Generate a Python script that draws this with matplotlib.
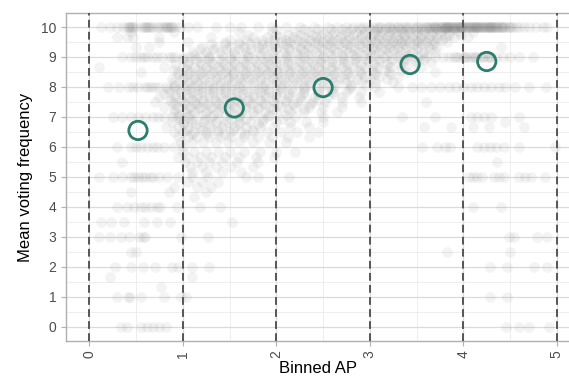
import matplotlib.pyplot as plt
from matplotlib.ticker import MultipleLocator

plt.rcParams['font.family'] = ['Liberation Sans', 'DejaVu Sans']

# bin means (open circles)
bin_x = [0.52, 1.55, 2.5, 3.43, 4.25]
bin_y = [6.55, 7.3, 7.98, 8.75, 8.85]

# individual respondents, grouped by mean voting frequency (y) -> AP values (x)
rows = {
    10: [0.12, 0.22, 0.3, 0.36, 0.4, 0.42, 0.45, 0.47, 0.5, 0.55, 0.58, 0.6, 0.62, 0.64, 0.68,
         0.72, 0.75, 0.78, 0.8, 0.82, 0.84, 0.86, 0.88, 0.92, 0.97, 1.05, 1.15,
         0.42, 0.46, 0.62, 0.66, 0.83, 0.87,
         1.35, 1.5, 1.62, 1.8, 1.95, 2.1, 2.25, 2.4, 2.55, 2.65, 2.75, 2.82, 2.88, 2.93, 2.98,
         3.03, 3.08, 3.12, 3.17, 3.22, 3.26, 3.3, 3.34, 3.38, 3.42, 3.46, 3.5, 3.54, 3.57, 3.6,
         3.62, 3.64, 3.66, 3.68, 3.7, 3.71, 3.73, 3.75, 3.76, 3.78, 3.8, 3.81, 3.83, 3.85, 3.86,
         3.88, 3.9, 3.91, 3.93, 3.95, 3.96, 3.98, 4.0, 4.01, 4.03, 4.05, 4.06, 4.08, 4.1, 4.11,
         4.13, 4.15, 4.16, 4.18, 4.2, 4.21, 4.23, 4.25, 4.26, 4.28, 4.3, 4.31, 4.33, 4.35, 4.37,
         4.4, 4.42, 4.45, 4.48, 4.5, 4.53, 4.56, 4.6, 4.65, 4.7, 4.78, 4.85, 4.9,
         3.8, 3.84, 3.89, 3.94, 3.99, 4.04, 4.09, 4.14, 4.19, 4.24, 4.29, 4.34, 4.39,
         3.77, 3.82, 3.87, 3.92, 3.97, 4.02, 4.07, 4.12, 4.17, 4.22, 4.27, 4.32, 4.36, 4.41,
         3.1, 3.2, 3.3, 3.4, 3.5, 3.6, 3.7, 4.44, 4.5],
    9.92: [2.0, 2.3, 2.45, 2.58, 2.7, 2.8, 2.9, 3.0, 3.08, 3.16, 3.24, 3.32, 3.4, 3.48, 3.56,
           3.64, 3.72, 3.8, 3.9],
    9.83: [0.45, 0.9, 1.6, 1.95, 2.2, 2.35, 2.5, 2.62, 2.75, 2.85, 2.95, 3.05, 3.12, 3.2, 3.28,
           3.35, 3.42, 3.5, 3.58, 3.66, 3.75, 3.85, 3.95, 4.1],
    9.75: [1.7, 2.0, 2.12, 2.25, 2.38, 2.48, 2.6, 2.7, 2.82, 2.92, 3.02, 3.1, 3.2, 3.3, 3.38,
           3.47, 3.56, 3.65, 3.75, 3.85, 3.98],
    9.67: [0.3, 0.4, 0.47, 0.75, 1.3, 1.75, 1.9, 2.05, 2.18, 2.3, 2.42, 2.55, 2.68, 2.78, 2.9,
           3.0, 3.1, 3.18, 3.27, 3.36, 3.45, 3.55, 3.63, 3.72, 3.8, 3.9, 4.05],
    9.58: [1.5, 1.68, 1.85, 1.98, 2.1, 2.22, 2.35, 2.45, 2.56, 2.66, 2.78, 2.88, 3.0, 3.1, 3.2,
           3.3, 3.38, 3.48, 3.57, 3.67, 3.77],
    9.5: [0.75, 1.05, 1.45, 1.6, 1.78, 1.92, 2.05, 2.15, 2.28, 2.4, 2.5, 2.6, 2.72, 2.83, 2.95,
          3.05, 3.15, 3.25, 3.33, 3.42, 3.52, 3.6, 3.7, 3.82],
    9.42: [1.3, 1.45, 1.6, 1.72, 1.85, 1.98, 2.1, 2.2, 2.32, 2.45, 2.55, 2.66, 2.76, 2.88, 2.98,
           3.08, 3.18, 3.28, 3.37, 3.47, 3.56, 3.68],
    9.33: [0.5, 0.64, 1.2, 1.35, 1.5, 1.65, 1.8, 1.9, 2.02, 2.12, 2.25, 2.35, 2.48, 2.58, 2.7,
           2.8, 2.92, 3.02, 3.12, 3.22, 3.3, 3.4, 3.5, 3.62, 3.72, 4.4],
    9.25: [1.18, 1.32, 1.46, 1.6, 1.72, 1.86, 2.0, 2.14, 2.26, 2.38, 2.5, 2.62, 2.74, 2.84, 2.96,
           3.06, 3.16, 3.26, 3.38, 3.5, 3.64],
    9.17: [1.1, 1.25, 1.4, 1.55, 1.68, 1.8, 1.95, 2.08, 2.2, 2.3, 2.42, 2.55, 2.65, 2.78, 2.88,
           3.0, 3.1, 3.2, 3.32, 3.45, 3.58, 3.7],
    9.08: [1.12, 1.28, 1.42, 1.56, 1.7, 1.84, 1.98, 2.1, 2.22, 2.34, 2.46, 2.58, 2.7, 2.82, 2.94,
           3.06, 3.18, 3.3, 3.42, 3.56],
    9: [0.35, 0.45, 0.5, 0.55, 0.58, 0.62, 0.68, 0.72, 0.78, 0.85, 0.88, 0.92, 1.0, 1.08, 1.18,
        1.28, 1.5, 1.7, 1.9, 2.1, 2.3, 2.5, 2.7, 2.85, 3.0, 3.15, 3.3, 3.4, 3.5, 3.6,
        3.7, 3.78, 3.85, 3.9, 3.95, 4.0, 4.03, 4.07, 4.1, 4.14, 4.18, 4.22, 4.26, 4.3, 4.35,
        4.42, 4.5, 4.6, 4.75, 3.92, 4.02, 4.12, 4.2, 4.28],
    8.92: [1.0, 1.14, 1.28, 1.4, 1.52, 1.64, 1.76, 1.88, 2.0, 2.12, 2.24, 2.36, 2.48, 2.6, 2.72,
           2.84, 2.96, 3.1, 3.24, 3.4, 3.58],
    8.83: [1.05, 1.18, 1.3, 1.42, 1.55, 1.65, 1.78, 1.9, 2.0, 2.12, 2.25, 2.38, 2.48, 2.6, 2.72,
           2.85, 2.98, 3.1, 3.22, 3.35, 3.5, 3.65],
    8.75: [0.92, 1.06, 1.2, 1.32, 1.44, 1.56, 1.68, 1.8, 1.92, 2.04, 2.16, 2.28, 2.4, 2.52, 2.64,
           2.76, 2.9, 3.04, 3.18, 3.32, 3.48],
    8.67: [0.1, 0.8, 1.0, 1.12, 1.25, 1.38, 1.48, 1.6, 1.72, 1.85, 1.95, 2.08, 2.2, 2.32, 2.45,
           2.58, 2.7, 2.82, 2.95, 3.08, 3.22, 3.38, 3.55],
    8.58: [0.9, 1.04, 1.16, 1.28, 1.4, 1.52, 1.64, 1.76, 1.88, 2.0, 2.12, 2.24, 2.36, 2.48, 2.6,
           2.74, 2.88, 3.02, 3.16, 3.32],
    8.5: [0.55, 0.95, 1.08, 1.2, 1.32, 1.45, 1.55, 1.68, 1.8, 1.92, 2.02, 2.15, 2.28, 2.4, 2.52,
          2.65, 2.78, 2.9, 3.05, 3.2, 3.4, 3.7],
    8.42: [0.95, 1.06, 1.18, 1.3, 1.42, 1.54, 1.66, 1.78, 1.9, 2.02, 2.14, 2.26, 2.38, 2.5, 2.62,
           2.76, 2.9, 3.06, 3.22],
    8.33: [1.0, 1.12, 1.22, 1.35, 1.48, 1.6, 1.7, 1.82, 1.95, 2.05, 2.18, 2.3, 2.42, 2.55, 2.68,
           2.8, 2.95, 3.1, 3.3],
    8.25: [0.88, 1.0, 1.12, 1.24, 1.36, 1.48, 1.6, 1.72, 1.84, 1.96, 2.08, 2.2, 2.32, 2.44, 2.58,
           2.72, 2.86, 3.0, 3.18],
    8.17: [0.9, 1.05, 1.15, 1.28, 1.4, 1.52, 1.62, 1.75, 1.88, 2.0, 2.1, 2.22, 2.35, 2.48, 2.62,
           2.75, 2.9, 3.05, 3.25],
    8.08: [0.92, 1.04, 1.16, 1.28, 1.4, 1.52, 1.64, 1.76, 1.88, 2.0, 2.12, 2.24, 2.36, 2.5, 2.64,
           2.8, 2.96],
    8: [0.2, 0.32, 0.42, 0.47, 0.52, 0.6, 0.63, 0.66, 0.7, 0.75, 0.82, 0.9, 1.0, 1.1, 1.2, 1.32,
        1.45, 1.6, 1.85, 2.05, 2.3, 2.55, 2.8, 3.05, 3.3, 3.45, 3.55, 3.65, 3.75, 3.85, 3.92,
        4.0, 4.08, 4.15, 4.22, 4.3, 4.38, 4.45, 4.55, 4.7, 4.88],
    7.92: [0.84, 0.96, 1.08, 1.2, 1.32, 1.44, 1.56, 1.68, 1.8, 1.92, 2.04, 2.16, 2.3, 2.44, 2.6,
           2.78],
    7.83: [0.85, 0.98, 1.1, 1.2, 1.32, 1.45, 1.58, 1.7, 1.82, 1.92, 2.05, 2.18, 2.3, 2.45, 2.6,
           2.75, 2.9, 3.1],
    7.75: [0.8, 0.92, 1.04, 1.16, 1.28, 1.4, 1.52, 1.64, 1.76, 1.88, 2.0, 2.14, 2.28, 2.44, 2.62],
    7.67: [0.75, 0.92, 1.05, 1.15, 1.28, 1.4, 1.5, 1.62, 1.75, 1.88, 2.0, 2.12, 2.25, 2.4, 2.55,
           2.7, 2.88],
    7.58: [0.86, 0.98, 1.1, 1.22, 1.34, 1.46, 1.58, 1.7, 1.82, 1.96, 2.1, 2.26, 2.44],
    7.5: [0.7, 0.88, 1.0, 1.12, 1.22, 1.35, 1.48, 1.6, 1.72, 1.85, 1.98, 2.1, 2.22, 2.38, 2.52,
          2.7, 2.9, 3.6],
    7.42: [0.9, 1.02, 1.14, 1.26, 1.38, 1.5, 1.62, 1.74, 1.88, 2.02, 2.18, 2.36],
    7.33: [0.8, 0.95, 1.08, 1.18, 1.3, 1.42, 1.55, 1.68, 1.8, 1.92, 2.05, 2.2, 2.35, 2.5, 2.7],
    7.25: [0.92, 1.04, 1.16, 1.28, 1.4, 1.52, 1.66, 1.8, 1.96, 2.12, 2.3],
    7.17: [0.9, 1.02, 1.12, 1.25, 1.38, 1.5, 1.62, 1.75, 1.88, 2.0, 2.15, 2.3, 2.48, 2.65],
    7.08: [0.96, 1.08, 1.2, 1.32, 1.46, 1.6, 1.76, 1.92, 2.1],
    7: [0.25, 0.35, 0.45, 0.52, 0.6, 0.68, 0.73, 0.8, 0.88, 0.95, 1.05, 1.3, 1.6, 1.9, 2.2,
        2.5, 3.34, 3.7, 4.08, 4.15, 4.22, 4.3, 4.6],
    6.92: [0.98, 1.1, 1.24, 1.38, 1.52, 1.68, 1.86, 2.06],
    6.83: [0.88, 1.0, 1.1, 1.22, 1.35, 1.48, 1.6, 1.72, 1.85, 2.0, 2.15, 2.32, 2.5, 4.45],
    6.75: [1.0, 1.14, 1.28, 1.44, 1.6, 1.8],
    6.67: [0.82, 0.95, 1.05, 1.18, 1.3, 1.42, 1.55, 1.68, 1.82, 1.98, 2.15, 2.35, 3.58, 3.87,
           4.1, 4.27, 4.65],
    6.58: [1.04, 1.2, 1.36, 1.54, 1.74],
    6.5: [0.9, 1.0, 1.12, 1.25, 1.38, 1.5, 1.62, 1.75, 1.9, 2.05, 2.22, 2.45],
    6.42: [1.1, 1.26, 1.44, 1.66],
    6.33: [0.95, 1.05, 1.15, 1.28, 1.4, 1.52, 1.65, 1.8, 1.95, 2.12, 2.35],
    6.17: [0.98, 1.1, 1.22, 1.35, 1.48, 1.6, 1.75, 1.92, 2.1],
    6: [0.3, 0.45, 0.5, 0.55, 0.62, 0.68, 0.72, 0.8, 0.9, 1.0, 3.56, 3.72, 3.8, 3.86, 4.15,
        4.22, 4.28, 4.35, 4.43, 4.6, 4.98],
    5.83: [1.0, 1.12, 1.25, 1.38, 1.5, 1.65, 1.82, 2.0, 2.2],
    5.67: [0.95, 1.05, 1.18, 1.3, 1.45, 1.6, 1.78, 1.98],
    5.5: [0.35, 1.02, 1.15, 1.28, 1.42, 1.58, 1.8, 4.36],
    5.33: [1.08, 1.2, 1.35, 1.52, 1.75],
    5.17: [1.1, 1.25, 1.42, 1.62],
    5: [0.1, 0.25, 0.35, 0.44, 0.48, 0.52, 0.56, 0.6, 0.65, 0.68, 0.75, 0.83, 0.95, 1.1, 1.27,
        1.68, 1.8, 2.14, 4.06, 4.1, 4.15, 4.2, 4.33, 4.38, 4.43, 4.6, 4.66, 4.72, 4.87],
    4.83: [1.05, 1.2, 1.38],
    4.67: [0.9, 1.15, 1.3],
    4.5: [0.45, 0.85, 1.25],
    4.33: [1.12],
    4: [0.3, 0.4, 0.48, 0.55, 0.6, 0.66, 0.72, 0.76, 0.94, 1.18, 1.4, 4.1, 4.4],
    3.5: [0.12, 0.23, 0.37, 0.58, 0.72, 0.86, 1.53],
    3: [0.1, 0.22, 0.34, 0.42, 0.53, 0.57, 0.6, 0.98, 1.27, 4.49, 4.54, 4.79, 4.9],
    2.5: [0.44, 0.5, 3.82, 4.5],
    2: [0.27, 0.45, 0.57, 0.7, 0.88, 0.95, 1.1, 1.28, 4.28, 4.47, 4.76, 4.89],
    1.67: [0.22, 1.1],
    1.33: [0.77],
    1: [0.3, 0.41, 0.43, 0.55, 0.8, 0.98, 1.03, 4.29, 4.47],
    0: [0.34, 0.4, 0.55, 0.62, 0.68, 0.75, 0.82, 4.46, 4.6, 4.7, 4.92],
}

pts_x = [x for y, xs in rows.items() for x in xs]
pts_y = [y for y, xs in rows.items() for x in xs]

fig = plt.figure(figsize=(5.69, 3.80), dpi=100)
ax = fig.add_axes([0.116, 0.103, 0.884, 0.863])

ax.scatter(pts_x, pts_y, s=60, color='#606060', alpha=0.07, linewidths=0, zorder=2)

for v in range(6):
    ax.axvline(v, color='#555555', lw=1.4, dashes=(4, 2.2), zorder=3)

ax.scatter(bin_x, bin_y, s=175, facecolors='none', edgecolors='#2b7d6d', linewidths=2.0, zorder=4)

ax.set_xlim(-0.25, 5.13)
ax.set_ylim(-0.47, 10.47)
ax.xaxis.set_major_locator(MultipleLocator(1))
ax.xaxis.set_minor_locator(MultipleLocator(0.5))
ax.yaxis.set_major_locator(MultipleLocator(1))
ax.yaxis.set_minor_locator(MultipleLocator(0.5))
ax.set_axisbelow(True)
ax.grid(which='major', color='#dadada', lw=0.9)
ax.grid(which='minor', color='#ebebeb', lw=0.6)

ax.spines['right'].set_visible(False)
for side in ['left', 'bottom', 'top']:
    ax.spines[side].set_color('#b0b0b0')
    ax.spines[side].set_linewidth(1.0)

ax.tick_params(which='major', length=3.5, color='#b0b0b0', labelcolor='#4d4d4d', labelsize=10)
ax.tick_params(which='minor', length=0)
ax.tick_params(axis='x', labelrotation=90)

ax.set_xlabel('Binned AP', fontsize=12, labelpad=2)
ax.set_ylabel('Mean voting frequency', fontsize=12, labelpad=6)

fig.savefig('out.png', dpi=100)
